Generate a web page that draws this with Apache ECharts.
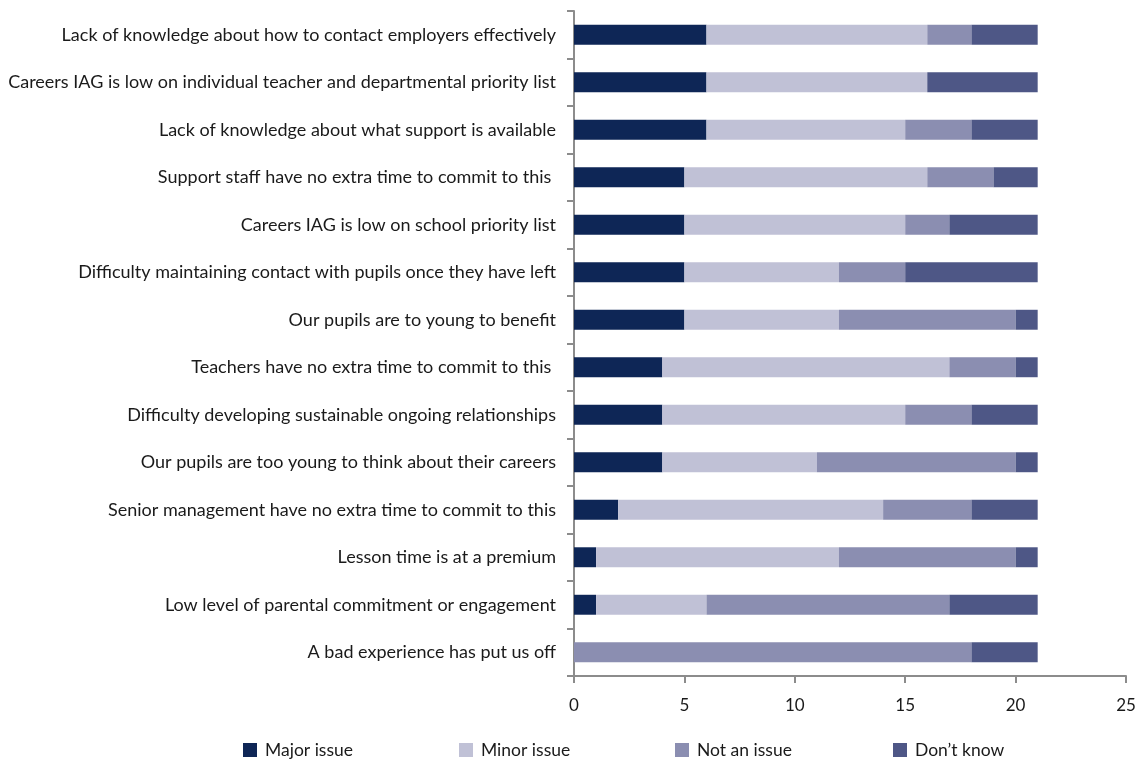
<!DOCTYPE html>
<html>
<head>
<meta charset="utf-8">
<script src="https://cdn.jsdelivr.net/npm/echarts@6/dist/echarts.min.js"></script>
<style>
  html, body { margin: 0; padding: 0; background: #ffffff; }
  #chart { width: 1142px; height: 762px; }
</style>
</head>
<body>
<div id="chart"></div>
<script>
// Barriers to careers information, advice and guidance (counts of schools)
const categories = [
  'Lack of knowledge about how to contact employers effectively',
  'Careers IAG is low on individual teacher and departmental priority list',
  'Lack of knowledge about what support is available',
  'Support staff have no extra time to commit to this ',
  'Careers IAG is low on school priority list',
  'Difficulty maintaining contact with pupils once they have left',
  'Our pupils are to young to benefit',
  'Teachers have no extra time to commit to this ',
  'Difficulty developing sustainable ongoing relationships',
  'Our pupils are too young to think about their careers',
  'Senior management have no extra time to commit to this',
  'Lesson time is at a premium',
  'Low level of parental commitment or engagement',
  'A bad experience has put us off'
];
const majorIssue  = [6, 6, 6, 5, 5, 5, 5, 4, 4, 4, 2, 1, 1, 0];
const minorIssue  = [10, 10, 9, 11, 10, 7, 7, 13, 11, 7, 12, 11, 5, 0];
const notAnIssue  = [2, 0, 3, 3, 2, 3, 8, 3, 3, 9, 4, 8, 11, 18];
const dontKnow    = [3, 5, 3, 2, 4, 6, 1, 1, 3, 1, 3, 1, 4, 3];
const xTicks = { min: 0, max: 25, interval: 5 };

const seriesDefs = [
  { name: 'Major issue',  data: majorIssue, color: '#0e2656' },
  { name: 'Minor issue',  data: minorIssue, color: '#c0c1d6' },
  { name: 'Not an issue', data: notAnIssue, color: '#8b8eb1' },
  { name: 'Don\u2019t know', data: dontKnow, color: '#4e5786' }
];

const font = 'Lato, "Open Sans", sans-serif';
const axisGray = '#8c8c8c';
const legendLeft = [243, 459, 675, 893];

const chart = echarts.init(document.getElementById('chart'), null, { renderer: 'canvas' });
chart.setOption({
  animation: false,
  backgroundColor: '#ffffff',
  textStyle: { fontFamily: font, color: '#1a1a1a' },
  grid: { left: 574, right: 16, top: 11, bottom: 86, containLabel: false },
  legend: seriesDefs.map((s, i) => ({
    data: [s.name],
    left: legendLeft[i],
    top: 741,
    padding: 0,
    itemWidth: 14,
    itemHeight: 14,
    itemGap: 0,
    icon: 'rect',
    textStyle: { fontFamily: font, fontSize: 17.5, color: '#1a1a1a', padding: [0, 0, 0, 3] }
  })),
  xAxis: {
    type: 'value',
    min: xTicks.min,
    max: xTicks.max,
    interval: xTicks.interval,
    axisLine: { show: true, lineStyle: { color: axisGray, width: 2 } },
    axisTick: { show: true, length: 7, lineStyle: { color: axisGray, width: 2 } },
    splitLine: { show: false },
    axisLabel: { fontFamily: font, fontSize: 17, color: '#1a1a1a', margin: 21 }
  },
  yAxis: {
    type: 'category',
    data: categories,
    inverse: true,
    axisLine: { show: true, lineStyle: { color: axisGray, width: 2 } },
    axisTick: { show: true, length: 7, alignWithLabel: false, lineStyle: { color: axisGray, width: 2 } },
    axisLabel: { fontFamily: font, fontSize: 18, color: '#1a1a1a', margin: 18 }
  },
  series: seriesDefs.map(s => ({
    name: s.name,
    type: 'bar',
    stack: 'total',
    data: s.data,
    barWidth: '42%',
    itemStyle: { color: s.color }
  }))
});
</script>
</body>
</html>
